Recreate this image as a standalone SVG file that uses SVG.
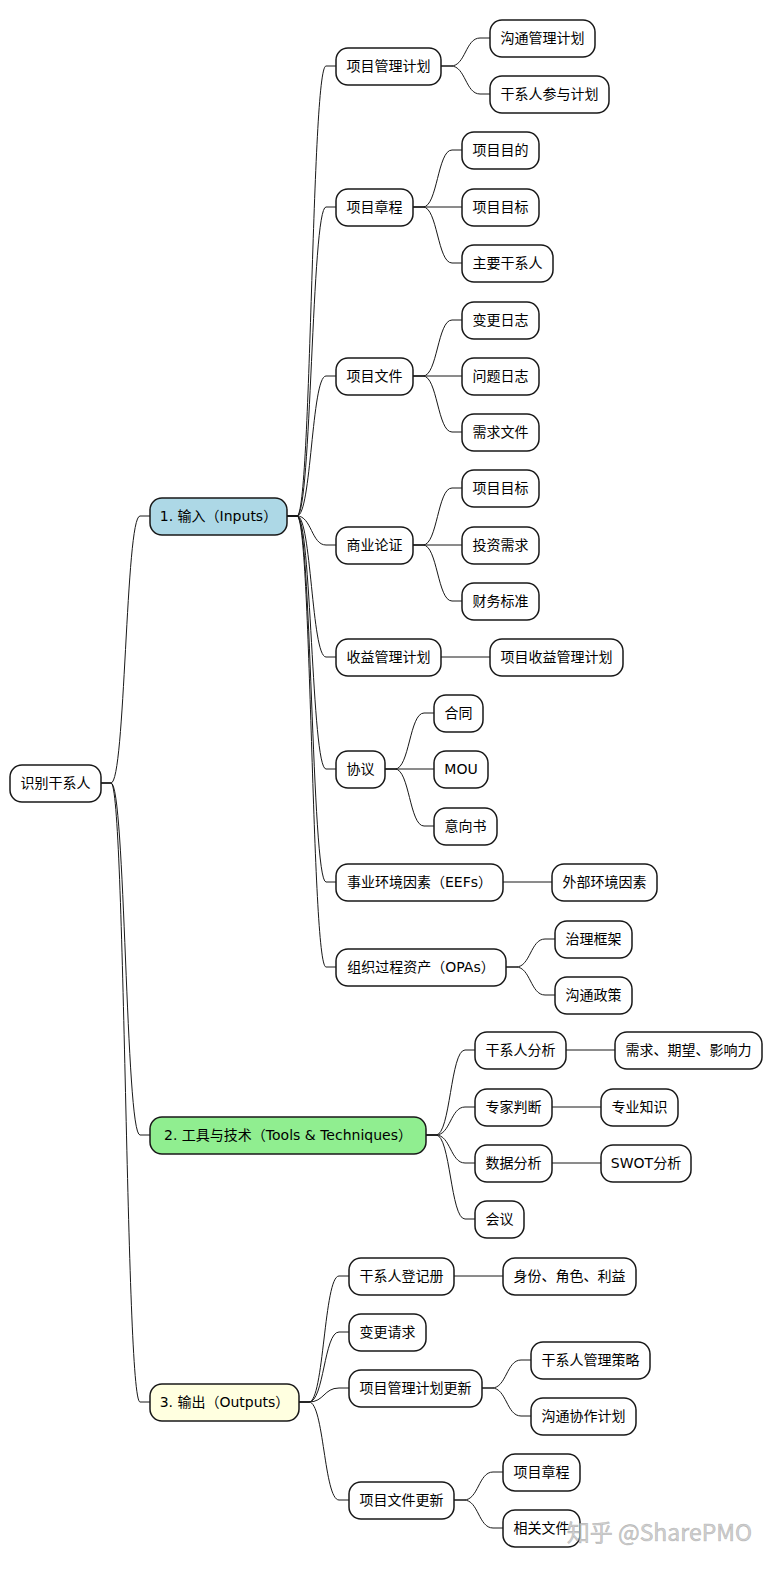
<svg xmlns="http://www.w3.org/2000/svg" width="772" height="1569" viewBox="0 0 772 1569">
<style>
.n rect{fill:#fff;stroke:#181818;stroke-width:1.5}
.n text{font-family:"DejaVu Sans","Noto Sans CJK SC",sans-serif;font-size:14px;fill:#000;text-anchor:middle}
#c path{fill:none;stroke:#181818;stroke-width:1}
.wm{font-family:"Noto Sans CJK SC","DejaVu Sans",sans-serif;font-size:23px;fill:#c8c8c8;fill-opacity:0.85;stroke:#9a9a9a;stroke-width:0.6;stroke-opacity:0.6}
</style>
<rect width="772" height="1569" fill="#fff"/>
<g id="c">
<path d="M101,783H111C125.5,783 125.5,516 140,516H150"/>
<path d="M101,783H111C125.5,783 125.5,1135 140,1135H150"/>
<path d="M101,783H111C125.5,783 125.5,1402 140,1402H150"/>
<path d="M287,516H297C311.5,516 311.5,66 326,66H336"/>
<path d="M287,516H297C311.5,516 311.5,207 326,207H336"/>
<path d="M287,516H297C311.5,516 311.5,376 326,376H336"/>
<path d="M287,516H297C311.5,516 311.5,545 326,545H336"/>
<path d="M287,516H297C311.5,516 311.5,657 326,657H336"/>
<path d="M287,516H297C311.5,516 311.5,769 326,769H336"/>
<path d="M287,516H297C311.5,516 311.5,882 326,882H336"/>
<path d="M287,516H297C311.5,516 311.5,967 326,967H336"/>
<path d="M441,66H451C465.5,66 465.5,38 480,38H490"/>
<path d="M441,66H451C465.5,66 465.5,94 480,94H490"/>
<path d="M413,207H423C437.5,207 437.5,150 452,150H462"/>
<path d="M413,207H462"/>
<path d="M413,207H423C437.5,207 437.5,263 452,263H462"/>
<path d="M413,376H423C437.5,376 437.5,320 452,320H462"/>
<path d="M413,376H462"/>
<path d="M413,376H423C437.5,376 437.5,432 452,432H462"/>
<path d="M413,545H423C437.5,545 437.5,488 452,488H462"/>
<path d="M413,545H462"/>
<path d="M413,545H423C437.5,545 437.5,601 452,601H462"/>
<path d="M441,657H490"/>
<path d="M385,769H395C409.5,769 409.5,713 424,713H434"/>
<path d="M385,769H434"/>
<path d="M385,769H395C409.5,769 409.5,826 424,826H434"/>
<path d="M503,882H552"/>
<path d="M506,967H516C530.5,967 530.5,939 545,939H555"/>
<path d="M506,967H516C530.5,967 530.5,995 545,995H555"/>
<path d="M426,1135H436C450.5,1135 450.5,1050 465,1050H475"/>
<path d="M426,1135H436C450.5,1135 450.5,1107 465,1107H475"/>
<path d="M426,1135H436C450.5,1135 450.5,1163 465,1163H475"/>
<path d="M426,1135H436C450.5,1135 450.5,1219 465,1219H475"/>
<path d="M566,1050H615"/>
<path d="M552,1107H601"/>
<path d="M552,1163H601"/>
<path d="M299,1402H309C324,1402 324,1276 339,1276H349"/>
<path d="M299,1402H309C324,1402 324,1332 339,1332H349"/>
<path d="M299,1402H309C324,1402 324,1388 339,1388H349"/>
<path d="M299,1402H309C324,1402 324,1500 339,1500H349"/>
<path d="M454,1276H503"/>
<path d="M482,1388H492C506.5,1388 506.5,1360 521,1360H531"/>
<path d="M482,1388H492C506.5,1388 506.5,1416 521,1416H531"/>
<path d="M454,1500H464C478.5,1500 478.5,1472 493,1472H503"/>
<path d="M454,1500H464C478.5,1500 478.5,1528 493,1528H503"/>
</g>
<g id="root" class="n"><rect x="10" y="765" width="91" height="37" rx="12"/><text x="55.5" y="788">识别干系人</text></g>
<g id="inputs" class="n"><rect x="150" y="498" width="137" height="37" rx="12" style="fill:#ADD8E6"/><text x="218.5" y="521">1. 输入（Inputs）</text></g>
<g id="tools" class="n"><rect x="150" y="1117" width="276" height="37" rx="12" style="fill:#90EE90"/><text x="288" y="1140">2. 工具与技术（Tools &amp; Techniques）</text></g>
<g id="outputs" class="n"><rect x="150" y="1384" width="149" height="37" rx="12" style="fill:#FFFFE0"/><text x="224.5" y="1407">3. 输出（Outputs）</text></g>

<g id="pmp" class="n"><rect x="336" y="48" width="105" height="37" rx="12"/><text x="388.5" y="71">项目管理计划</text></g>
<g id="cmp" class="n"><rect x="490" y="20" width="105" height="37" rx="12"/><text x="542.5" y="43">沟通管理计划</text></g>
<g id="sep" class="n"><rect x="490" y="76" width="119" height="37" rx="12"/><text x="549.5" y="99">干系人参与计划</text></g>
<g id="charter" class="n"><rect x="336" y="189" width="77" height="37" rx="12"/><text x="374.5" y="212">项目章程</text></g>
<g id="purpose" class="n"><rect x="462" y="132" width="77" height="37" rx="12"/><text x="500.5" y="155">项目目的</text></g>
<g id="goal1" class="n"><rect x="462" y="189" width="77" height="37" rx="12"/><text x="500.5" y="212">项目目标</text></g>
<g id="keysh" class="n"><rect x="462" y="245" width="91" height="37" rx="12"/><text x="507.5" y="268">主要干系人</text></g>
<g id="docs" class="n"><rect x="336" y="358" width="77" height="37" rx="12"/><text x="374.5" y="381">项目文件</text></g>
<g id="chlog" class="n"><rect x="462" y="302" width="77" height="37" rx="12"/><text x="500.5" y="325">变更日志</text></g>
<g id="issue" class="n"><rect x="462" y="358" width="77" height="37" rx="12"/><text x="500.5" y="381">问题日志</text></g>
<g id="req" class="n"><rect x="462" y="414" width="77" height="37" rx="12"/><text x="500.5" y="437">需求文件</text></g>
<g id="bc" class="n"><rect x="336" y="527" width="77" height="37" rx="12"/><text x="374.5" y="550">商业论证</text></g>
<g id="goal2" class="n"><rect x="462" y="470" width="77" height="37" rx="12"/><text x="500.5" y="493">项目目标</text></g>
<g id="inv" class="n"><rect x="462" y="527" width="77" height="37" rx="12"/><text x="500.5" y="550">投资需求</text></g>
<g id="fin" class="n"><rect x="462" y="583" width="77" height="37" rx="12"/><text x="500.5" y="606">财务标准</text></g>
<g id="bmp" class="n"><rect x="336" y="639" width="105" height="37" rx="12"/><text x="388.5" y="662">收益管理计划</text></g>
<g id="pbmp" class="n"><rect x="490" y="639" width="133" height="37" rx="12"/><text x="556.5" y="662">项目收益管理计划</text></g>
<g id="agr" class="n"><rect x="336" y="751" width="49" height="37" rx="12"/><text x="360.5" y="774">协议</text></g>
<g id="contract" class="n"><rect x="434" y="695" width="49" height="37" rx="12"/><text x="458.5" y="718">合同</text></g>
<g id="mou" class="n"><rect x="434" y="751" width="54" height="37" rx="12"/><text x="461" y="774">MOU</text></g>
<g id="loi" class="n"><rect x="434" y="808" width="63" height="37" rx="12"/><text x="465.5" y="831">意向书</text></g>
<g id="eef" class="n"><rect x="336" y="864" width="167" height="37" rx="12"/><text x="419.5" y="887">事业环境因素（EEFs）</text></g>
<g id="ext" class="n"><rect x="552" y="864" width="105" height="37" rx="12"/><text x="604.5" y="887">外部环境因素</text></g>
<g id="opa" class="n"><rect x="336" y="949" width="170" height="37" rx="12"/><text x="421" y="972">组织过程资产（OPAs）</text></g>
<g id="gov" class="n"><rect x="555" y="921" width="77" height="37" rx="12"/><text x="593.5" y="944">治理框架</text></g>
<g id="cpol" class="n"><rect x="555" y="977" width="77" height="37" rx="12"/><text x="593.5" y="1000">沟通政策</text></g>

<g id="sha" class="n"><rect x="475" y="1032" width="91" height="37" rx="12"/><text x="520.5" y="1055">干系人分析</text></g>
<g id="nei" class="n"><rect x="615" y="1032" width="147" height="37" rx="12"/><text x="688.5" y="1055">需求、期望、影响力</text></g>
<g id="ej" class="n"><rect x="475" y="1089" width="77" height="37" rx="12"/><text x="513.5" y="1112">专家判断</text></g>
<g id="pk" class="n"><rect x="601" y="1089" width="77" height="37" rx="12"/><text x="639.5" y="1112">专业知识</text></g>
<g id="da" class="n"><rect x="475" y="1145" width="77" height="37" rx="12"/><text x="513.5" y="1168">数据分析</text></g>
<g id="swot" class="n"><rect x="601" y="1145" width="90" height="37" rx="12"/><text x="646" y="1168">SWOT分析</text></g>
<g id="meet" class="n"><rect x="475" y="1201" width="49" height="37" rx="12"/><text x="499.5" y="1224">会议</text></g>

<g id="reg" class="n"><rect x="349" y="1258" width="105" height="37" rx="12"/><text x="401.5" y="1281">干系人登记册</text></g>
<g id="iri" class="n"><rect x="503" y="1258" width="133" height="37" rx="12"/><text x="569.5" y="1281">身份、角色、利益</text></g>
<g id="cr" class="n"><rect x="349" y="1314" width="77" height="37" rx="12"/><text x="387.5" y="1337">变更请求</text></g>
<g id="pmpu" class="n"><rect x="349" y="1370" width="133" height="37" rx="12"/><text x="415.5" y="1393">项目管理计划更新</text></g>
<g id="sms" class="n"><rect x="531" y="1342" width="119" height="37" rx="12"/><text x="590.5" y="1365">干系人管理策略</text></g>
<g id="ccp" class="n"><rect x="531" y="1398" width="105" height="37" rx="12"/><text x="583.5" y="1421">沟通协作计划</text></g>
<g id="pdu" class="n"><rect x="349" y="1482" width="105" height="37" rx="12"/><text x="401.5" y="1505">项目文件更新</text></g>
<g id="ch2" class="n"><rect x="503" y="1454" width="77" height="37" rx="12"/><text x="541.5" y="1477">项目章程</text></g>
<g id="rel" class="n"><rect x="503" y="1510" width="77" height="37" rx="12"/><text x="541.5" y="1533">相关文件</text></g>
<text class="wm" x="752" y="1541" text-anchor="end">知乎 @SharePMO</text>
</svg>
